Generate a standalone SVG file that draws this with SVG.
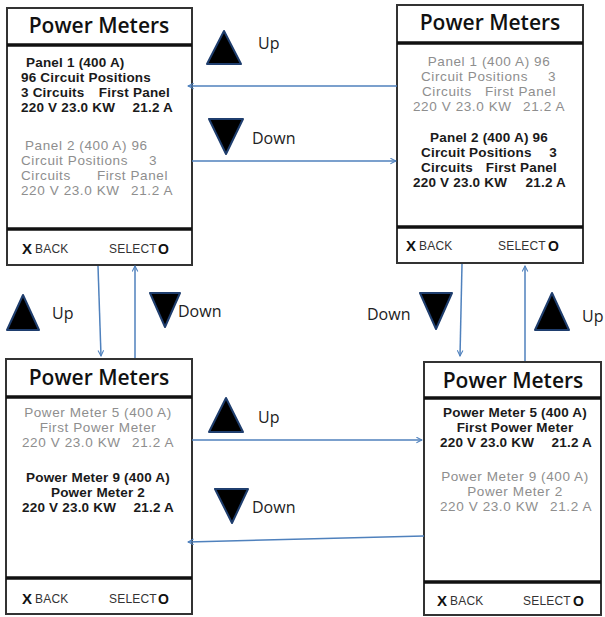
<svg xmlns="http://www.w3.org/2000/svg" width="605" height="617" viewBox="0 0 605 617">
<defs>
<style>
.frame{fill:#fff;stroke:#333;stroke-width:2}
.sep{stroke:#111;stroke-width:3.5}
.title{font-family:"Open Sans","Liberation Sans",sans-serif;font-size:21px;font-weight:600;fill:#111;text-anchor:middle}
.b{font-family:"Liberation Sans",Arial,sans-serif;font-size:13.5px;letter-spacing:0.2px;font-weight:bold;fill:#1a1a1a}
.g{font-family:"Liberation Sans",Arial,sans-serif;font-size:13.5px;letter-spacing:0.6px;fill:#8e8e8e}
.mid{text-anchor:middle}
.end{text-anchor:end}
.x{font-family:"Liberation Sans",Arial,sans-serif;font-size:15px;font-weight:bold;fill:#111}
.ft{font-family:"Liberation Sans",Arial,sans-serif;font-size:12px;letter-spacing:0.2px;fill:#333}
.o{font-family:"Liberation Sans",Arial,sans-serif;font-size:14px;font-weight:bold;fill:#111}
.lbl{font-family:"Open Sans","Liberation Sans",sans-serif;font-size:16px;fill:#222}
.conn{stroke:#4f81bd;stroke-width:1.5;fill:none;marker-end:url(#ah)}
.tri{fill:#000;stroke:#1f3e6e;stroke-width:2;stroke-linejoin:round}
</style>
<marker id="ah" viewBox="0 0 10 10" refX="9" refY="5" markerWidth="7" markerHeight="7" markerUnits="userSpaceOnUse" orient="auto">
<path d="M1,1 L9,5 L1,9" fill="none" stroke="#4f81bd" stroke-width="1.5"/>
</marker>
</defs>
<rect width="605" height="617" fill="#fff"/>

<g id="labels">
<polygon class="tri" points="224,31 241,64 207,64"/>
<text class="lbl" x="258" y="49">Up</text>
<polygon class="tri" points="209,119 243,119 226,154"/>
<text class="lbl" x="252" y="144">Down</text>
<polygon class="tri" points="23,295 39,330 7,330"/>
<text class="lbl" x="52" y="319">Up</text>
<polygon class="tri" points="150,293 180,293 165,327"/>
<text class="lbl" x="178" y="317">Down</text>
<polygon class="tri" points="420,293 452,293 436,329"/>
<text class="lbl" x="367" y="320">Down</text>
<polygon class="tri" points="552,293 569,330 535,330"/>
<text class="lbl" x="582" y="322">Up</text>
<polygon class="tri" points="226,398 243,432 209,432"/>
<text class="lbl" x="258" y="423">Up</text>
<polygon class="tri" points="215,489 248,489 232,523"/>
<text class="lbl" x="252" y="513">Down</text>
</g>

<g id="screen1">
<rect class="frame" x="7" y="8" width="185" height="257"/>
<line class="sep" x1="7" y1="45" x2="192" y2="45"/>
<line class="sep" x1="7" y1="229" x2="192" y2="229"/>
<text class="title" x="99" y="33">Power Meters</text>
<text class="b" x="26" y="67">Panel 1 (400 A)</text>
<text class="b" x="21" y="82">96 Circuit Positions</text>
<text class="b" x="21" y="97">3 Circuits</text><text class="b end" x="170" y="97">First Panel</text>
<text class="b" x="21" y="112">220 V 23.0 KW</text><text class="b end" x="173" y="112">21.2 A</text>
<text class="g" x="25" y="150">Panel 2 (400 A) 96</text>
<text class="g" x="21" y="165">Circuit Positions</text><text class="g end" x="157" y="165">3</text>
<text class="g" x="21" y="180">Circuits</text><text class="g end" x="168" y="180">First Panel</text>
<text class="g" x="21" y="195">220 V 23.0 KW</text><text class="g end" x="173" y="195">21.2 A</text>
<text class="x" x="22" y="254">X</text><text class="ft" x="35" y="253">BACK</text>
<text class="ft" x="109" y="253">SELECT</text><text class="o" x="158" y="254">O</text>
</g>

<g id="screen2">
<rect class="frame" x="397" y="5" width="186" height="258"/>
<line class="sep" x1="397" y1="43" x2="583" y2="43"/>
<line class="sep" x1="397" y1="227" x2="583" y2="227"/>
<text class="title" x="490" y="30">Power Meters</text>
<text class="g mid" x="489" y="66">Panel 1 (400 A) 96</text>
<text class="g" x="421" y="81">Circuit Positions</text><text class="g end" x="556" y="81">3</text>
<text class="g" x="422" y="96">Circuits</text><text class="g end" x="556" y="96">First Panel</text>
<text class="g" x="413" y="111">220 V 23.0 KW</text><text class="g end" x="565" y="111">21.2 A</text>
<text class="b mid" x="489" y="142">Panel 2 (400 A) 96</text>
<text class="b" x="421" y="157">Circuit Positions</text><text class="b end" x="557" y="157">3</text>
<text class="b" x="421" y="172">Circuits</text><text class="b end" x="557" y="172">First Panel</text>
<text class="b" x="413" y="187">220 V 23.0 KW</text><text class="b end" x="566" y="187">21.2 A</text>
<text class="x" x="406" y="251">X</text><text class="ft" x="419" y="250">BACK</text>
<text class="ft" x="498" y="250">SELECT</text><text class="o" x="548" y="251">O</text>
</g>

<g id="screen3">
<rect class="frame" x="6" y="359" width="186" height="255"/>
<line class="sep" x1="6" y1="397" x2="192" y2="397"/>
<line class="sep" x1="6" y1="578" x2="192" y2="578"/>
<text class="title" x="99" y="385">Power Meters</text>
<text class="g mid" x="98" y="417">Power Meter 5 (400 A)</text>
<text class="g mid" x="98" y="432">First Power Meter</text>
<text class="g" x="22" y="447">220 V  23.0 KW</text><text class="g end" x="174" y="447">21.2 A</text>
<text class="b mid" x="98" y="482">Power Meter 9 (400 A)</text>
<text class="b mid" x="98" y="497">Power Meter 2</text>
<text class="b" x="22" y="512">220 V  23.0 KW</text><text class="b end" x="174" y="512">21.2 A</text>
<text class="x" x="22" y="604">X</text><text class="ft" x="35" y="603">BACK</text>
<text class="ft" x="109" y="603">SELECT</text><text class="o" x="158" y="604">O</text>
</g>

<g id="screen4">
<rect class="frame" x="424" y="362" width="177" height="253"/>
<line class="sep" x1="424" y1="398" x2="601" y2="398"/>
<line class="sep" x1="424" y1="582" x2="601" y2="582"/>
<text class="title" x="513" y="388">Power Meters</text>
<text class="b mid" x="515" y="417">Power Meter 5 (400 A)</text>
<text class="b mid" x="515" y="432">First Power Meter</text>
<text class="b" x="440" y="447">220 V  23.0 KW</text><text class="b end" x="592" y="447">21.2 A</text>
<text class="g mid" x="515" y="481">Power Meter 9 (400 A)</text>
<text class="g mid" x="515" y="496">Power Meter 2</text>
<text class="g" x="440" y="511">220 V  23.0 KW</text><text class="g end" x="592" y="511">21.2 A</text>
<text class="x" x="437" y="606">X</text><text class="ft" x="450" y="605">BACK</text>
<text class="ft" x="523" y="605">SELECT</text><text class="o" x="573" y="606">O</text>
</g>

<g id="connectors">
<line class="conn" x1="397" y1="86" x2="188" y2="86"/>
<line class="conn" x1="192" y1="161" x2="396" y2="161"/>
<line class="conn" x1="98" y1="266" x2="101" y2="356"/>
<line class="conn" x1="135" y1="358" x2="135" y2="266"/>
<line class="conn" x1="462" y1="264" x2="460" y2="356"/>
<line class="conn" x1="525" y1="361" x2="525" y2="266"/>
<line class="conn" x1="192" y1="440" x2="422" y2="440"/>
<line class="conn" x1="424" y1="536" x2="188" y2="542"/>
</g>
</svg>
